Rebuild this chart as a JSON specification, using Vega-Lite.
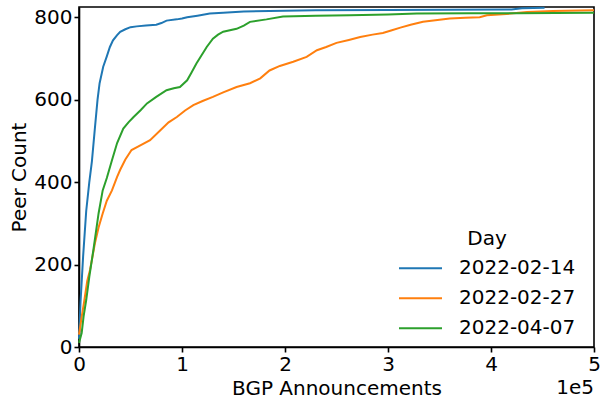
{
  "$schema": "https://vega.github.io/schema/vega-lite/v6.json",
  "width": 515,
  "height": 340,
  "autosize": {"type": "none"},
  "padding": {"left": 79, "top": 7, "right": 6, "bottom": 52},
  "config": {
    "font": "DejaVu Sans",
    "view": {"stroke": "black", "strokeWidth": 1.6},
    "axis": {
      "grid": false,
      "domainColor": "black",
      "domainWidth": 1.6,
      "tickColor": "black",
      "tickWidth": 1.6,
      "tickSize": 5,
      "labelFontSize": 20,
      "labelColor": "black",
      "labelPadding": 2,
      "labelFlush": false,
      "labelOverlap": false,
      "titleFontSize": 20,
      "titleFontWeight": "normal",
      "titleColor": "black"
    },
    "legend": {
      "padding": 0,
      "labelFontSize": 20,
      "labelColor": "black",
      "titleFontSize": 20,
      "titleFontWeight": "normal",
      "titleColor": "black"
    }
  },
  "datasets": {
    "curves": [
      {"day": "2022-02-14", "a": 0, "p": 20},
      {"day": "2022-02-14", "a": 1500, "p": 110},
      {"day": "2022-02-14", "a": 4000, "p": 220},
      {"day": "2022-02-14", "a": 7000, "p": 330},
      {"day": "2022-02-14", "a": 10000, "p": 400},
      {"day": "2022-02-14", "a": 12500, "p": 450},
      {"day": "2022-02-14", "a": 15500, "p": 533},
      {"day": "2022-02-14", "a": 18000, "p": 600},
      {"day": "2022-02-14", "a": 20000, "p": 640},
      {"day": "2022-02-14", "a": 23500, "p": 680},
      {"day": "2022-02-14", "a": 27000, "p": 705},
      {"day": "2022-02-14", "a": 30000, "p": 728},
      {"day": "2022-02-14", "a": 33000, "p": 744},
      {"day": "2022-02-14", "a": 37000, "p": 757},
      {"day": "2022-02-14", "a": 40000, "p": 765},
      {"day": "2022-02-14", "a": 45000, "p": 771},
      {"day": "2022-02-14", "a": 50000, "p": 776},
      {"day": "2022-02-14", "a": 56000, "p": 778},
      {"day": "2022-02-14", "a": 65000, "p": 780},
      {"day": "2022-02-14", "a": 75000, "p": 782},
      {"day": "2022-02-14", "a": 80000, "p": 786},
      {"day": "2022-02-14", "a": 85000, "p": 792},
      {"day": "2022-02-14", "a": 95000, "p": 795},
      {"day": "2022-02-14", "a": 100000, "p": 797},
      {"day": "2022-02-14", "a": 105000, "p": 800},
      {"day": "2022-02-14", "a": 115000, "p": 804},
      {"day": "2022-02-14", "a": 127000, "p": 809},
      {"day": "2022-02-14", "a": 140000, "p": 811},
      {"day": "2022-02-14", "a": 160000, "p": 814},
      {"day": "2022-02-14", "a": 200000, "p": 816},
      {"day": "2022-02-14", "a": 230000, "p": 817},
      {"day": "2022-02-14", "a": 300000, "p": 818},
      {"day": "2022-02-14", "a": 420000, "p": 819},
      {"day": "2022-02-14", "a": 430000, "p": 822},
      {"day": "2022-02-14", "a": 452000, "p": 823},
      {"day": "2022-02-27", "a": 0, "p": 30},
      {"day": "2022-02-27", "a": 2600, "p": 73},
      {"day": "2022-02-27", "a": 5000, "p": 110},
      {"day": "2022-02-27", "a": 8000, "p": 160},
      {"day": "2022-02-27", "a": 10700, "p": 187},
      {"day": "2022-02-27", "a": 15500, "p": 252},
      {"day": "2022-02-27", "a": 19000, "p": 290},
      {"day": "2022-02-27", "a": 23000, "p": 324},
      {"day": "2022-02-27", "a": 27000, "p": 355},
      {"day": "2022-02-27", "a": 32000, "p": 380},
      {"day": "2022-02-27", "a": 37000, "p": 413},
      {"day": "2022-02-27", "a": 40000, "p": 430},
      {"day": "2022-02-27", "a": 45000, "p": 455},
      {"day": "2022-02-27", "a": 51000, "p": 478},
      {"day": "2022-02-27", "a": 60000, "p": 490},
      {"day": "2022-02-27", "a": 69000, "p": 502},
      {"day": "2022-02-27", "a": 79000, "p": 526},
      {"day": "2022-02-27", "a": 87000, "p": 545},
      {"day": "2022-02-27", "a": 95000, "p": 558},
      {"day": "2022-02-27", "a": 103000, "p": 574},
      {"day": "2022-02-27", "a": 111000, "p": 587},
      {"day": "2022-02-27", "a": 120000, "p": 597},
      {"day": "2022-02-27", "a": 130000, "p": 607},
      {"day": "2022-02-27", "a": 140000, "p": 618},
      {"day": "2022-02-27", "a": 153000, "p": 631},
      {"day": "2022-02-27", "a": 166000, "p": 640},
      {"day": "2022-02-27", "a": 176000, "p": 652},
      {"day": "2022-02-27", "a": 185000, "p": 671},
      {"day": "2022-02-27", "a": 195000, "p": 682},
      {"day": "2022-02-27", "a": 208000, "p": 692},
      {"day": "2022-02-27", "a": 221000, "p": 704},
      {"day": "2022-02-27", "a": 231000, "p": 720},
      {"day": "2022-02-27", "a": 240000, "p": 728},
      {"day": "2022-02-27", "a": 250000, "p": 738},
      {"day": "2022-02-27", "a": 262000, "p": 745},
      {"day": "2022-02-27", "a": 273000, "p": 752},
      {"day": "2022-02-27", "a": 285000, "p": 758},
      {"day": "2022-02-27", "a": 295000, "p": 762},
      {"day": "2022-02-27", "a": 303000, "p": 768},
      {"day": "2022-02-27", "a": 312000, "p": 775},
      {"day": "2022-02-27", "a": 322000, "p": 782},
      {"day": "2022-02-27", "a": 334000, "p": 789},
      {"day": "2022-02-27", "a": 346000, "p": 793},
      {"day": "2022-02-27", "a": 360000, "p": 797},
      {"day": "2022-02-27", "a": 375000, "p": 799},
      {"day": "2022-02-27", "a": 389000, "p": 800},
      {"day": "2022-02-27", "a": 396000, "p": 805},
      {"day": "2022-02-27", "a": 415000, "p": 808},
      {"day": "2022-02-27", "a": 435000, "p": 813},
      {"day": "2022-02-27", "a": 460000, "p": 815},
      {"day": "2022-02-27", "a": 500000, "p": 817},
      {"day": "2022-04-07", "a": 0, "p": 10},
      {"day": "2022-04-07", "a": 2600, "p": 34},
      {"day": "2022-04-07", "a": 4500, "p": 75},
      {"day": "2022-04-07", "a": 7000, "p": 114},
      {"day": "2022-04-07", "a": 10000, "p": 170},
      {"day": "2022-04-07", "a": 14000, "p": 236},
      {"day": "2022-04-07", "a": 19000, "p": 324},
      {"day": "2022-04-07", "a": 23000, "p": 380},
      {"day": "2022-04-07", "a": 27000, "p": 410},
      {"day": "2022-04-07", "a": 32000, "p": 453},
      {"day": "2022-04-07", "a": 37000, "p": 495},
      {"day": "2022-04-07", "a": 43000, "p": 530},
      {"day": "2022-04-07", "a": 48000, "p": 545},
      {"day": "2022-04-07", "a": 53000, "p": 558},
      {"day": "2022-04-07", "a": 60000, "p": 575},
      {"day": "2022-04-07", "a": 66000, "p": 591},
      {"day": "2022-04-07", "a": 75000, "p": 607},
      {"day": "2022-04-07", "a": 85000, "p": 623},
      {"day": "2022-04-07", "a": 92000, "p": 628},
      {"day": "2022-04-07", "a": 98000, "p": 631},
      {"day": "2022-04-07", "a": 105000, "p": 647},
      {"day": "2022-04-07", "a": 109000, "p": 665},
      {"day": "2022-04-07", "a": 114000, "p": 688},
      {"day": "2022-04-07", "a": 119000, "p": 708},
      {"day": "2022-04-07", "a": 124000, "p": 728},
      {"day": "2022-04-07", "a": 130000, "p": 748},
      {"day": "2022-04-07", "a": 135000, "p": 758},
      {"day": "2022-04-07", "a": 140000, "p": 765},
      {"day": "2022-04-07", "a": 153000, "p": 772},
      {"day": "2022-04-07", "a": 160000, "p": 780},
      {"day": "2022-04-07", "a": 166000, "p": 789},
      {"day": "2022-04-07", "a": 182000, "p": 795},
      {"day": "2022-04-07", "a": 198000, "p": 802},
      {"day": "2022-04-07", "a": 230000, "p": 804},
      {"day": "2022-04-07", "a": 263000, "p": 805},
      {"day": "2022-04-07", "a": 300000, "p": 807},
      {"day": "2022-04-07", "a": 328000, "p": 809},
      {"day": "2022-04-07", "a": 380000, "p": 810},
      {"day": "2022-04-07", "a": 425000, "p": 810},
      {"day": "2022-04-07", "a": 500000, "p": 811}
    ]
  },
  "layer": [
    {
      "data": {"name": "curves"},
      "mark": {"type": "line", "strokeWidth": 2},
      "encoding": {
        "x": {
          "field": "a",
          "type": "quantitative",
          "scale": {"domain": [0, 500000], "nice": false, "zero": false},
          "axis": {
            "values": [0, 100000, 200000, 300000, 400000, 500000],
            "labelExpr": "format(datum.value / 100000, 'd')",
            "title": "BGP Announcements",
            "titlePadding": 4
          }
        },
        "y": {
          "field": "p",
          "type": "quantitative",
          "scale": {"domain": [0, 825], "nice": false},
          "axis": {
            "values": [0, 200, 400, 600, 800],
            "title": "Peer Count",
            "titlePadding": 4
          }
        },
        "color": {
          "field": "day",
          "type": "nominal",
          "scale": {
            "domain": ["2022-02-14", "2022-02-27", "2022-04-07"],
            "range": ["#1f77b4", "#ff7f0e", "#2ca02c"]
          },
          "legend": {
            "title": "Day",
            "orient": "none",
            "legendX": 319,
            "legendY": 222,
            "titleAnchor": "middle",
            "titleAlign": "center",
            "titlePadding": 4.5,
            "symbolType": "stroke",
            "symbolSize": 1849,
            "symbolStrokeWidth": 2,
            "labelOffset": 16,
            "clipHeight": 29.5,
            "rowPadding": 0
          }
        }
      }
    },
    {
      "data": {"values": [{"t": "1e5"}]},
      "mark": {"type": "text", "align": "right", "baseline": "alphabetic", "fontSize": 20, "color": "black"},
      "encoding": {
        "text": {"field": "t"},
        "x": {"datum": 500000, "type": "quantitative"},
        "y": {"datum": -114, "type": "quantitative"}
      }
    }
  ]
}
